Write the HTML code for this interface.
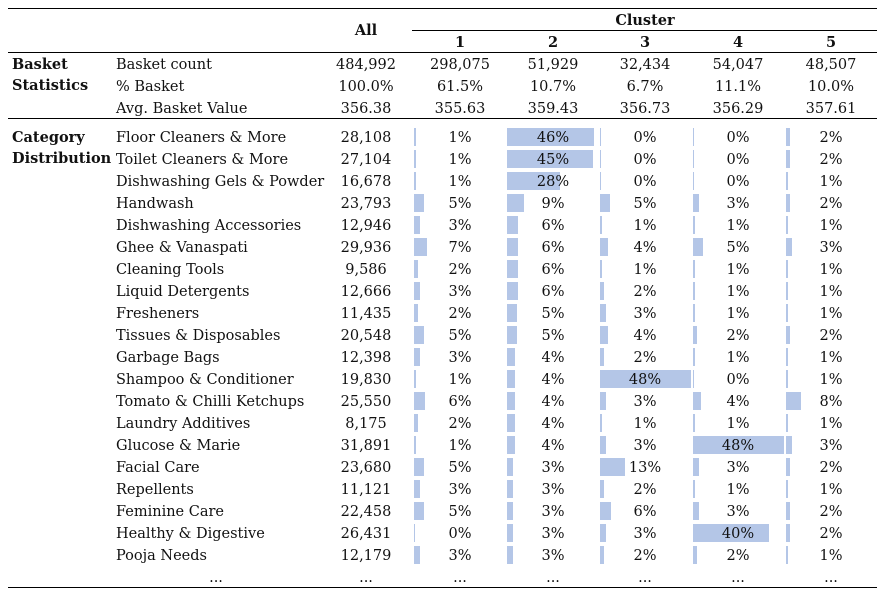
<!DOCTYPE html>
<html><head><meta charset="utf-8"><style>
body{margin:0;background:#fff;width:887px;height:597px;overflow:hidden;position:relative;font-family:"DejaVu Serif","Liberation Serif",serif;font-size:14.5px;color:#111}
.t{position:absolute;white-space:nowrap;line-height:18px}
.c{transform:translateX(-50%)}
.b{font-weight:bold}
.ln{position:absolute;height:1px;background:#000}
.bar{position:absolute;height:18px;background:#b4c6e7}
</style></head><body>
<div id="root"></div>
<script>
const categories=["Floor Cleaners & More","Toilet Cleaners & More","Dishwashing Gels & Powder","Handwash","Dishwashing Accessories","Ghee & Vanaspati","Cleaning Tools","Liquid Detergents","Fresheners","Tissues & Disposables","Garbage Bags","Shampoo & Conditioner","Tomato & Chilli Ketchups","Laundry Additives","Glucose & Marie","Facial Care","Repellents","Feminine Care","Healthy & Digestive","Pooja Needs"];
const allCounts=["28,108","27,104","16,678","23,793","12,946","29,936","9,586","12,666","11,435","20,548","12,398","19,830","25,550","8,175","31,891","23,680","11,121","22,458","26,431","12,179"];
const c1=[1,1,1,5,3,7,2,3,2,5,3,1,6,2,1,5,3,5,0,3];
const c2=[46,45,28,9,6,6,6,6,5,5,4,4,4,4,4,3,3,3,3,3];
const c3=[0,0,0,5,1,4,1,2,3,4,2,48,3,1,3,13,2,6,3,2];
const c4=[0,0,0,3,1,5,1,1,1,2,1,0,4,1,48,3,1,3,40,2];
const c5=[2,2,1,2,1,3,1,1,1,2,1,1,8,1,3,2,1,2,2,1];
const clusters=[c1,c2,c3,c4,c5];
const statLabels=["Basket count","% Basket","Avg. Basket Value"];
const statAll=["484,992","100.0%","356.38"];
const statClusters=[["298,075","51,929","32,434","54,047","48,507"],["61.5%","10.7%","6.7%","11.1%","10.0%"],["355.63","359.43","356.73","356.29","357.61"]];
const root=document.getElementById('root');
const colCenter=[460,553,645,738,831], barX=[414,507,600,693,786], allX=366, pxPerPct=1.9;
function txt(s,x,y,cls,name){const d=document.createElement('div');d.className='t '+(cls||'');d.textContent=s;d.style.left=x+'px';d.style.top=(y-8)+'px';


root.appendChild(d);return d;}
function line(x,y,w,name){const d=document.createElement('div');d.className='ln';d.style.left=x+'px';d.style.top=y+'px';d.style.width=w+'px';


root.appendChild(d);}
line(8,8,869,'top-rule');line(412,30,465,'cluster-rule');line(8,52,869,'header-rule');line(8,118,869,'stats-rule');line(8,587,869,'bottom-rule');
txt('All',allX,30,'c b','all-header');txt('Cluster',645,20,'c b','cluster-header');
for(let i=0;i<5;i++)txt(String(i+1),colCenter[i],42,'c b','cluster-'+(i+1)+'-header');
txt('Basket',12,64,'b','basket-section-label');txt('Statistics',12,85,'b','basket-section-label-2');
txt('Category',12,137,'b','category-section-label');txt('Distribution',12,158,'b','category-section-label-2');
statLabels.forEach((l,r)=>{const y=64+r*22;txt(l,116,y,'','stat-label');txt(statAll[r],allX,y,'c','stat-all');
statClusters[r].forEach((v,i)=>txt(v,colCenter[i],y,'c','stat-value'));});
categories.forEach((cat,r)=>{const y=137+r*22;txt(cat,116,y,'','category-label');txt(allCounts[r],allX,y,'c','category-all-count');
clusters.forEach((arr,i)=>{const b=document.createElement('div');b.className='bar';b.style.left=barX[i]+'px';b.style.top=(y-9)+'px';b.style.width=Math.max(1,arr[r]*pxPerPct)+'px';


root.appendChild(b);
txt(arr[r]+'%',colCenter[i],y,'c','share-value');});});
const ey=137+20*22;txt('...',116+100,ey,'c','ellipsis');txt('...',allX,ey,'c','ellipsis');colCenter.forEach(x=>txt('...',x,ey,'c','ellipsis'));
</script>
</body></html>
